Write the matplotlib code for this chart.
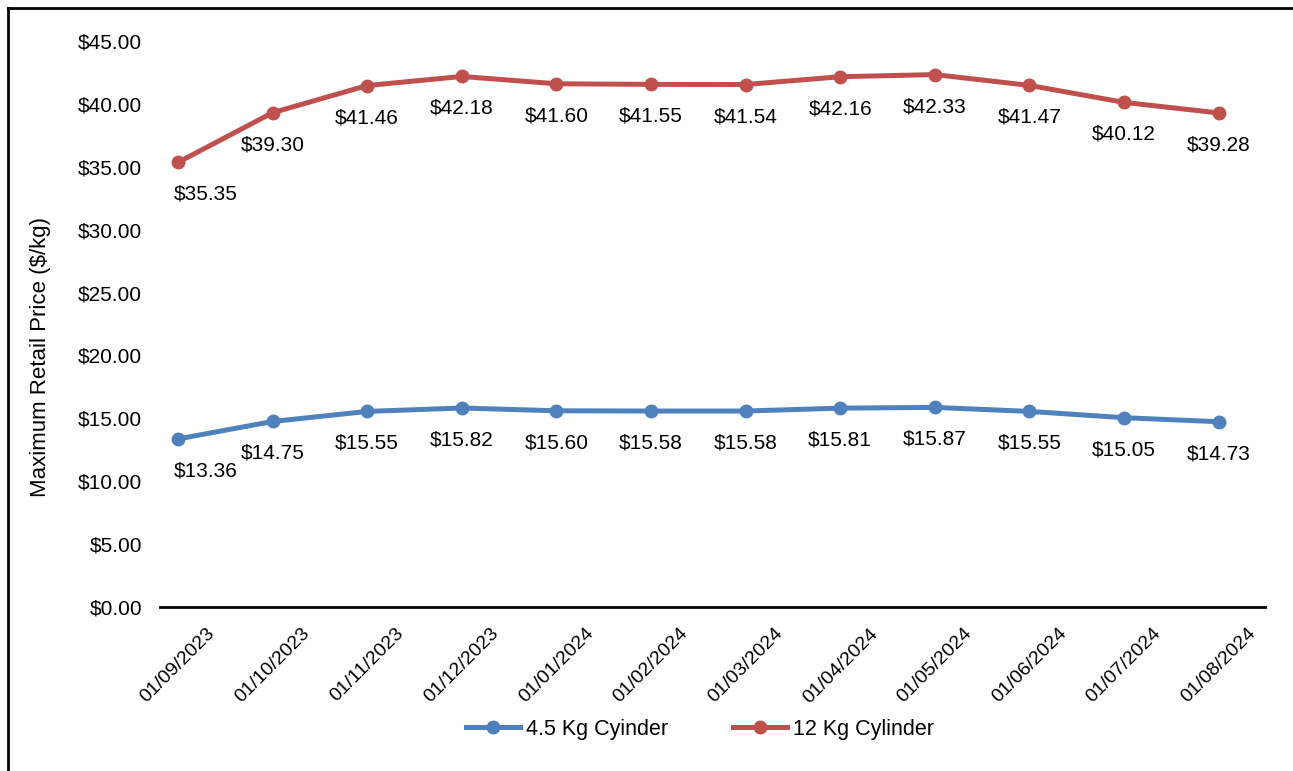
import matplotlib
matplotlib.use("Agg")
import matplotlib.pyplot as plt
from matplotlib.lines import Line2D

plt.rcParams['font.family'] = ['Liberation Sans', 'DejaVu Sans']

# Data
dates = ['01/09/2023', '01/10/2023', '01/11/2023', '01/12/2023', '01/01/2024', '01/02/2024',
         '01/03/2024', '01/04/2024', '01/05/2024', '01/06/2024', '01/07/2024', '01/08/2024']
small_cyl = [13.36, 14.75, 15.55, 15.82, 15.60, 15.58, 15.58, 15.81, 15.87, 15.55, 15.05, 14.73]
large_cyl = [35.35, 39.30, 41.46, 42.18, 41.60, 41.55, 41.54, 42.16, 42.33, 41.47, 40.12, 39.28]
series_names = ['4.5 Kg Cyinder', '12 Kg Cylinder']

blue = '#4F81BD'
red = '#C0504D'
fs = 15

fig = plt.figure(figsize=(12.93, 7.71), dpi=100)
ax = fig.add_axes([160 / 1293, 1 - 607 / 771, (1265 - 160) / 1293, (607 - 41) / 771])

x = list(range(len(dates)))
for vals, col, name in [(small_cyl, blue, series_names[0]), (large_cyl, red, series_names[1])]:
    ax.plot(x, vals, color=col, lw=3.6, marker='o', markersize=9, label=name,
            solid_capstyle='round')
    for xi, v in zip(x, vals):
        # first label is nudged right, as in the original
        dx = 28 if xi == 0 else 0
        ax.annotate(f'${v:.2f}', (xi, v), xytext=(dx, -32), textcoords='offset pixels',
                    ha='center', va='center', fontsize=fs)

ax.set_ylim(0, 45)
ax.set_xlim(-0.19, 11.49)
ax.set_yticks(range(0, 46, 5))
ax.set_yticklabels([f'${v:.2f}' for v in range(0, 46, 5)], fontsize=fs)
ax.set_xticks(x)
ax.set_xticklabels(dates, rotation=45, ha='center', va='top', fontsize=fs - 1)
ax.tick_params(axis='both', length=0)
ax.tick_params(axis='y', pad=13)
ax.tick_params(axis='x', pad=13)
for s in ['top', 'right', 'left']:
    ax.spines[s].set_visible(False)
ax.spines['bottom'].set_linewidth(2)
ax.set_ylabel('Maximum Retail Price ($/kg)', fontsize=16)
ax.yaxis.set_label_coords(51 / 1293, 1 - 357 / 771, transform=fig.transFigure)

handles = [Line2D([], [], color=blue, lw=3.6, marker='o', markersize=9),
           Line2D([], [], color=red, lw=3.6, marker='o', markersize=9)]
fig.legend(handles, series_names, loc='center', bbox_to_anchor=(700 / 1293, 1 - 729 / 771),
           ncol=2, frameon=False, fontsize=15.5, handlelength=2.5, handletextpad=0.3,
           columnspacing=3.0)

# outer border (left and top only visible)
fig.add_artist(Line2D([8 / 1293, 8 / 1293], [0, 1 - 8 / 771], color='black', lw=2,
                      transform=fig.transFigure))
fig.add_artist(Line2D([8 / 1293, 1], [1 - 8 / 771, 1 - 8 / 771], color='black', lw=2,
                      transform=fig.transFigure))

fig.savefig('out.png', dpi=100)
